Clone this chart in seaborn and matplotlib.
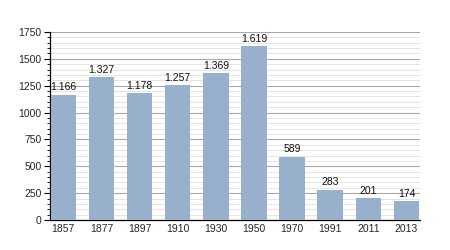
import matplotlib
matplotlib.use("Agg")
import matplotlib.pyplot as plt
import seaborn as sns
import pandas as pd
from matplotlib.ticker import MultipleLocator

years = ["1857", "1877", "1897", "1910", "1930", "1950", "1970", "1991", "2011", "2013"]
population = [1166, 1327, 1178, 1257, 1369, 1619, 589, 283, 201, 174]
labels = ["1.166", "1.327", "1.178", "1.257", "1.369", "1.619", "589", "283", "201", "174"]

df = pd.DataFrame({"year": years, "pop": population})

sns.set_style("white")
plt.rcParams['font.family'] = ['Liberation Sans', 'DejaVu Sans']

fig = plt.figure(figsize=(4.5, 2.5), dpi=100)
ax = fig.add_axes([0.111, 0.12, 0.822, 0.752])

sns.barplot(data=df, x="year", y="pop", color="#98b0cc", saturation=1, width=0.67, ax=ax, zorder=3)
for p in ax.patches:
    p.set_edgecolor("none")

for i, (v, lab) in enumerate(zip(population, labels)):
    ax.text(i, v + 22, lab, ha="center", va="bottom", fontsize=7.5, color="#111111", zorder=4)

ax.set_ylim(0, 1750)
ax.set_xlim(-0.35, 9.35)
ax.yaxis.set_major_locator(MultipleLocator(250))
ax.yaxis.set_minor_locator(MultipleLocator(50))
ax.grid(which="major", axis="y", color="#a8a8a8", linewidth=0.8, zorder=0)
ax.grid(which="minor", axis="y", color="#e0e0e0", linewidth=0.6, zorder=0)
ax.set_axisbelow(True)

ax.set_xlabel("")
ax.set_ylabel("")
for s in ["top", "right"]:
    ax.spines[s].set_visible(False)
ax.spines["left"].set_color("black")
ax.spines["bottom"].set_color("black")
ax.spines["left"].set_linewidth(0.9)
ax.spines["bottom"].set_linewidth(0.9)

ax.tick_params(axis="y", which="major", length=4, width=0.8, labelsize=7.5, left=True, color="black", pad=2)
ax.tick_params(axis="y", which="minor", length=2, width=0.6, left=True, color="black")
ax.tick_params(axis="x", which="both", length=0, labelsize=7.5, pad=3)

fig.savefig("out.png", dpi=100)
